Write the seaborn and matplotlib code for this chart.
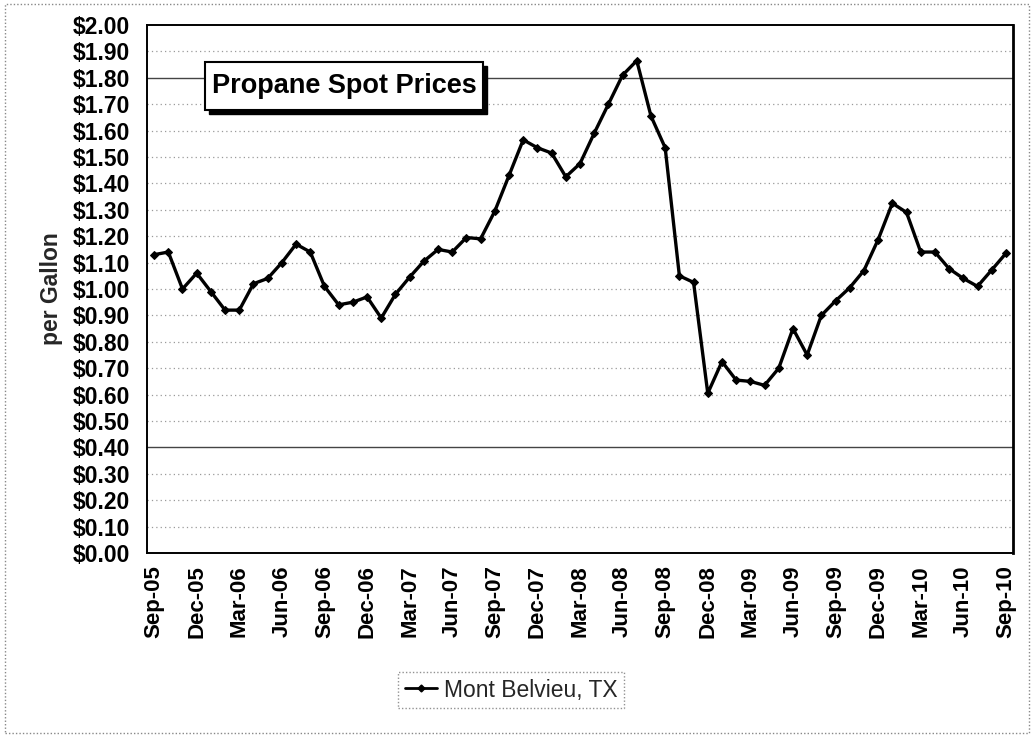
import matplotlib
matplotlib.use("Agg")
import matplotlib.pyplot as plt
from matplotlib.patches import Rectangle
from matplotlib.lines import Line2D
import seaborn as sns
import pandas as pd
import numpy as np

months = ["Sep-05", "Oct-05", "Nov-05", "Dec-05", "Jan-06", "Feb-06", "Mar-06", "Apr-06",
          "May-06", "Jun-06", "Jul-06", "Aug-06", "Sep-06", "Oct-06", "Nov-06", "Dec-06",
          "Jan-07", "Feb-07", "Mar-07", "Apr-07", "May-07", "Jun-07", "Jul-07", "Aug-07",
          "Sep-07", "Oct-07", "Nov-07", "Dec-07", "Jan-08", "Feb-08", "Mar-08", "Apr-08",
          "May-08", "Jun-08", "Jul-08", "Aug-08", "Sep-08", "Oct-08", "Nov-08", "Dec-08",
          "Jan-09", "Feb-09", "Mar-09", "Apr-09", "May-09", "Jun-09", "Jul-09", "Aug-09",
          "Sep-09", "Oct-09", "Nov-09", "Dec-09", "Jan-10", "Feb-10", "Mar-10", "Apr-10",
          "May-10", "Jun-10", "Jul-10", "Aug-10", "Sep-10"]

prices = [1.13, 1.14, 1.00, 1.06, 0.99, 0.92, 0.92, 1.02,
          1.04, 1.10, 1.17, 1.14, 1.01, 0.94, 0.95, 0.97,
          0.89, 0.98, 1.045, 1.105, 1.15, 1.14, 1.195, 1.19,
          1.295, 1.43, 1.565, 1.535, 1.515, 1.425, 1.475, 1.59,
          1.70, 1.81, 1.865, 1.655, 1.535, 1.05, 1.025, 0.605,
          0.725, 0.655, 0.65, 0.635, 0.70, 0.85, 0.75, 0.90,
          0.955, 1.005, 1.07, 1.187, 1.325, 1.29, 1.14, 1.14,
          1.077, 1.04, 1.01, 1.072, 1.135]

series_name = "Mont Belvieu, TX"
title_text = "Propane Spot Prices"
y_label = "per Gallon"

df = pd.DataFrame({"idx": np.arange(len(months)), "price": prices, "month": months})

sns.set_theme(style="white")
plt.rcParams["font.family"] = ["Liberation Sans", "DejaVu Sans"]

W, H = 1033, 737
fig = plt.figure(figsize=(W / 100, H / 100), dpi=100)
fig.patch.set_facecolor("white")

L, R, T, B = 147, 1013, 25, 553
ax = fig.add_axes([L / W, 1 - B / H, (R - L) / W, (B - T) / H])
ax.set_facecolor("white")

sns.lineplot(data=df, x="idx", y="price", ax=ax, color="black", linewidth=2.4,
             marker="D", markersize=4.5, markeredgecolor="black", markerfacecolor="black",
             legend=False)

ax.set_xlim(-0.5, len(months) - 0.5)
ax.set_ylim(0, 2.0)

# y ticks / grid
yt = np.round(np.arange(0, 2.0001, 0.1), 2)
ax.set_yticks(yt)
ax.set_yticklabels([f"${v:.2f}" for v in yt], fontsize=16.5, fontweight="bold")
for v in yt[1:-1]:
    if abs(v - 1.8) < 1e-6 or abs(v - 0.4) < 1e-6:
        ax.axhline(v, color="#444444", lw=1.0, ls="-", zorder=0.5)
    else:
        ax.axhline(v, color="#9a9a9a", lw=0.9, ls=(0, (1, 2.5)), zorder=0.5)

# x ticks: labels every 3 months at points; tick marks at category boundaries
lab_pos = list(range(0, len(months), 3))
ax.set_xticks(lab_pos)
ax.set_xticklabels([months[i] for i in lab_pos], rotation=90, fontsize=16, fontweight="bold")
ax.tick_params(axis="x", which="major", length=0, pad=9)
ax.set_xticks([p - 0.5 for p in lab_pos], minor=True)
ax.tick_params(axis="x", which="minor", length=5, width=0.8, color="black", direction="out")
ax.tick_params(axis="y", which="major", length=5, width=0.8, color="black", direction="out", pad=7)
ax.tick_params(axis="both", colors="black")
ax.set_xlabel("")

ax.set_ylabel(y_label, fontsize=16.5, fontweight="bold")
ax.yaxis.set_label_coords(-0.097, 0.5)

for s in ax.spines.values():
    s.set_visible(True)
    s.set_color("black")
    s.set_linewidth(1.4)
ax.spines["right"].set_linewidth(2.0)

# title box with shadow (pixel coords -> figure fraction)
bx0, bx1, by0, by1 = 205, 483, 62, 110
fig.patches.append(Rectangle(((bx0 + 4) / W, 1 - (by1 + 4) / H), (bx1 - bx0) / W, (by1 - by0) / H,
                             transform=fig.transFigure, facecolor="black", edgecolor="black", zorder=5))
fig.patches.append(Rectangle((bx0 / W, 1 - by1 / H), (bx1 - bx0) / W, (by1 - by0) / H,
                             transform=fig.transFigure, facecolor="white", edgecolor="black",
                             linewidth=1.5, zorder=6))
fig.text((bx0 + bx1) / 2 / W, 1 - (by0 + by1) / 2 / H, title_text, ha="center", va="center",
         fontsize=19.5, fontweight="bold", color="black", zorder=7)

# legend
handle = Line2D([], [], color="black", lw=2.0, marker="D", markersize=3.5)
leg = fig.legend([handle], [series_name], loc="center", bbox_to_anchor=(511 / W, 1 - 690 / H),
                 fontsize=16.5, frameon=True, fancybox=False, handlelength=1.4, handletextpad=0.3,
                 borderpad=0.3, borderaxespad=0)
leg.get_frame().set_edgecolor("#777777")
leg.get_frame().set_linestyle((0, (1, 1.5)))
leg.get_frame().set_linewidth(1.0)

# outer figure border
fig.patches.append(Rectangle((5 / W, 4 / H), (W - 9) / W, (H - 8) / H, transform=fig.transFigure,
                             facecolor="none", edgecolor="#888888", lw=1.0, ls=(0, (1, 1.5)), zorder=0))

fig.savefig("out.png", dpi=100, facecolor="white")
